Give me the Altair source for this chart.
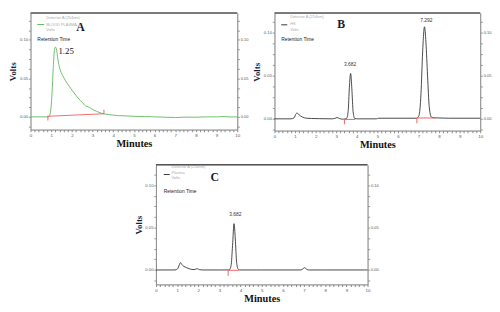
import altair as alt
import pandas as pd

# ---------------- data ----------------
# Panel A (blood plasma, green trace)
tA = [0, 0.5, 0.85, 0.92, 0.98, 1.04, 1.10, 1.16, 1.20, 1.25, 1.32, 1.42, 1.55, 1.70,
      1.85, 2.0, 2.2, 2.4, 2.6, 2.72, 2.8, 2.95, 3.2, 3.5, 3.8, 4.2, 4.6, 5.0, 5.5, 6.0,
      6.5, 7.0, 7.5, 8.0, 8.5, 9.0, 9.3, 9.6, 10]
vA = [0, 0, 0, 0.0017, 0.0089, 0.0308, 0.0646, 0.0878, 0.0907, 0.0886, 0.0751, 0.0624,
      0.054, 0.0468, 0.0405, 0.035, 0.0278, 0.0215, 0.016, 0.0135, 0.0131, 0.0105, 0.0072,
      0.0042, 0.003, 0.0017, 0.0013, 0.0008, 0.0004, 0, -0.0004, -0.0008, -0.0004, -0.0004,
      0, 0, 0.0004, 0, 0]

# Panel B (standard, black trace)
tB = [0, 0.8, 0.95, 1.05, 1.10, 1.2, 1.35, 1.55, 1.8, 2.2, 2.8, 2.95, 3.04, 3.15, 3.35,
      3.5, 3.58, 3.64, 3.70, 3.76, 3.82, 3.9, 4.0, 4.5, 4.95, 5.05, 6.0, 6.9, 7.02, 7.12,
      7.2, 7.29, 7.36, 7.44, 7.52, 7.62, 7.8, 8.5, 10]
vB = [0, 0, 0.0011, 0.006, 0.0067, 0.0045, 0.0022, 0.0007, 0.0004, 0.0002, 0, 0.0007,
      0.0015, 0.0004, -0.0004, 0.0004, 0.0086, 0.0366, 0.0526, 0.0347, 0.0086, 0.0004, 0,
      0, 0, 0.0007, 0.0007, 0.0007, 0.0037, 0.0291, 0.0776, 0.1067, 0.0888, 0.0496, 0.0142,
      0.0022, 0.0011, 0.0007, 0.0007]

# Panel C (plasma, black trace)
tC = [0, 0.9, 1.03, 1.1, 1.16, 1.22, 1.3, 1.45, 1.6, 1.8, 1.9, 1.96, 2.05, 2.2, 3.0, 3.45,
      3.55, 3.62, 3.69, 3.75, 3.81, 3.88, 3.95, 5, 6.85, 6.95, 7.02, 7.1, 7.2, 8, 10]
vC = [0, 0, 0.0015, 0.0058, 0.0088, 0.0065, 0.0046, 0.0027, 0.0012, 0.0004, 0.0012,
      0.0015, 0.0004, 0, 0, 0, 0.005, 0.0288, 0.0546, 0.0365, 0.0096, 0.0012, 0, 0, 0,
      0.0015, 0.0027, 0.0012, 0, 0, 0]

# integration baselines (red): x, x2, y, y2
redA = {"x": [0.84, 0.84, 3.55], "x2": [3.55, 0.84, 3.55],
        "y": [0.0009, 0.0016, 0.0092], "y2": [0.0040, -0.0047, 0.0038]}
redB = {"x": [3.40, 3.40, 6.92, 6.92], "x2": [3.92, 3.40, 7.80, 6.92],
        "y": [-0.0007, -0.0007, 0.0010, 0.0010], "y2": [-0.0007, -0.0063, 0.0010, -0.0052]}
redC = {"x": [3.40, 3.41], "x2": [3.92, 3.41],
        "y": [-0.0004, 0.0], "y2": [-0.0004, -0.0069]}

# peak labels
peaksA = {"x": [1.35], "y": [0.085], "label": ["1.25"]}
peaksB = {"x": [3.67, 7.38], "y": [0.0636, 0.1148], "label": ["3.682", "7.292"]}
peaksC = {"x": [3.75], "y": [0.066], "label": ["3.682"]}

letters = ["A", "B", "C"]
letter_pos = [(2.42, 0.1165), (3.24, 0.110), (2.78, 0.110)]

legend_lines = [
    ["Detector A (254nm)", "BLOOD PLASMA", "Volts"],
    ["Detector A (254nm)", "HS", "Volts"],
    ["Detector A (254nm)", "Plasma", "Volts"],
]
legend_geo = [  # line x0, x1, line y, text x, text ys, RT x, RT y
    (0.33, 0.66, 0.120, 0.76, [0.128, 0.120, 0.113], 0.33, 0.101),
    (0.33, 0.62, 0.109, 0.76, [0.118, 0.110, 0.103], 0.33, 0.092),
    (0.37, 0.65, 0.1125, 0.74, [0.1216, 0.1148, 0.108], 0.37, 0.093),
]

x_ticks = [i / 5 for i in range(51)]
y_ticks = [i * 0.0125 for i in range(-1, 11)]

FONT = "Liberation Sans"
SERIF = "Liberation Serif"


def panel(idx, t, v, color, ydom, w, h, red, peaks):
    xs = alt.Scale(domain=[0, 10], nice=False, zero=False)
    ys = alt.Scale(domain=ydom, nice=False, zero=False)
    df = pd.DataFrame({"t": t, "v": v})
    xaxis = alt.Axis(values=x_ticks, title="Minutes",
                     labelExpr="abs(datum.value - round(datum.value)) < 0.001 ? format(datum.value, 'd') : ''",
                     titleFont=SERIF, titleFontWeight="bold", titleFontSize=10.5, titleColor="#111",
                     labelFont=FONT, labelFontSize=4.5, labelColor="#555", labelOverlap=False,
                     labelFlush=False, tickSize=2.2, tickColor="#888", domainColor="#888",
                     labelPadding=1, titlePadding=2, grid=False)
    ylab = "abs(datum.value*20 - round(datum.value*20)) < 0.001 ? format(datum.value, '.2f') : ''"
    yaxisL = alt.Axis(values=y_ticks, title="Volts", labelExpr=ylab,
                      titleFont=SERIF, titleFontWeight="bold", titleFontSize=9, titleColor="#1a1a33",
                      labelFont=FONT, labelFontSize=4.3, labelColor="#555", labelOverlap=False,
                      labelFlush=False, tickSize=2.2, tickColor="#999", domainColor="#888",
                      labelPadding=0.8, titlePadding=1.5, grid=False)
    yaxisR = alt.Axis(values=y_ticks, title=None, labelExpr=ylab, orient="right",
                      labelFont=FONT, labelFontSize=4.1, labelColor="#555", labelOverlap=False,
                      labelFlush=False, tickSize=2.2, tickColor="#999", domainColor="#888",
                      labelPadding=0.8, grid=False)

    def X(f):
        return alt.X(f, scale=xs, axis=xaxis, title="Minutes")

    curve = alt.Chart(df).mark_line(color=color, strokeWidth=0.9, interpolate="monotone").encode(
        x=X("t:Q"),
        y=alt.Y("v:Q", scale=ys, axis=yaxisL),
    )
    right = alt.Chart(df).mark_line(opacity=0).encode(
        x=X("t:Q"),
        y=alt.Y("v:Q", scale=ys, axis=yaxisR),
    )
    rdf = pd.DataFrame(red)
    reds = alt.Chart(rdf).mark_rule(color="#f06060", strokeWidth=1.1, opacity=0.9).encode(
        x=X("x:Q"), x2="x2:Q",
        y=alt.Y("y:Q", scale=ys, axis=None), y2="y2:Q",
    )
    pdf = pd.DataFrame(peaks)
    if idx == 0:
        ptxt = alt.Chart(pdf).mark_text(font=SERIF, fontSize=9, align="left", baseline="middle",
                                        color="#111")
    else:
        ptxt = alt.Chart(pdf).mark_text(font=FONT, fontSize=5, align="center", baseline="middle",
                                        color="#333")
    ptxt = ptxt.encode(x=X("x:Q"), y=alt.Y("y:Q", scale=ys, axis=None), text="label:N")
    lx, ly = letter_pos[idx]
    ldf = pd.DataFrame({"x": [lx], "y": [ly], "label": [letters[idx]]})
    let = alt.Chart(ldf).mark_text(font=SERIF, fontSize=12, fontWeight="bold", color="#1a1a33",
                                   baseline="middle").encode(
        x=X("x:Q"), y=alt.Y("y:Q", scale=ys, axis=None), text="label:N")
    g = legend_geo[idx]
    lgl = pd.DataFrame({"x": [g[0]], "x2": [g[1]], "y": [g[2]]})
    lg_line = alt.Chart(lgl).mark_rule(color=color, strokeWidth=1).encode(
        x=X("x:Q"), x2="x2:Q", y=alt.Y("y:Q", scale=ys, axis=None))
    lgt = pd.DataFrame({"x": [g[3]] * 3, "y": g[4], "label": legend_lines[idx]})
    lg_txt = alt.Chart(lgt).mark_text(font=FONT, fontSize=4, color="#aaa", align="left",
                                      baseline="middle").encode(
        x=X("x:Q"), y=alt.Y("y:Q", scale=ys, axis=None), text="label:N")
    rtd = pd.DataFrame({"x": [g[5]], "y": [g[6]], "label": ["Retention Time"]})
    rt = alt.Chart(rtd).mark_text(font=FONT, fontSize=5, color="#222", align="left",
                                  baseline="middle").encode(
        x=X("x:Q"), y=alt.Y("y:Q", scale=ys, axis=None), text="label:N")
    top = alt.Chart(pd.DataFrame({"a": [0]})).mark_rule(color="#555", strokeWidth=1.5).encode(
        x=alt.value(0), x2=alt.value(w), y=alt.value(0))
    return alt.layer(curve, right, reds, ptxt, let, lg_line, lg_txt, rt, top).resolve_axis(
        y="independent").properties(width=w, height=h)


A = panel(0, tA, vA, "#5cb85c", [-0.0165, 0.135], 211, 119, redA, peaksA)
B = panel(1, tB, vB, "#333333", [-0.0136, 0.1227], 210, 120, redB, peaksB)
C = panel(2, tC, vC, "#333333", [-0.017, 0.1239], 216, 122, redC, peaksC)

spacer = alt.Chart(pd.DataFrame({"a": [0]})).mark_rect(opacity=0).encode(
    x=alt.value(0), x2=alt.value(105), y=alt.value(0), y2=alt.value(1)
).properties(width=105, height=1, view=alt.ViewBackground(strokeOpacity=0))

row1 = alt.hconcat(A, B, spacing=3)
row2 = alt.hconcat(spacer, C, spacing=0)
chart = alt.vconcat(row1, row2, spacing=12).properties(
    padding={"left": 0, "top": 0, "right": 0, "bottom": 0}
).configure_view(stroke="#8a8a8a", strokeWidth=1).configure(background="white")

chart.save("out.html", embed_options={"renderer": "svg", "actions": False})
